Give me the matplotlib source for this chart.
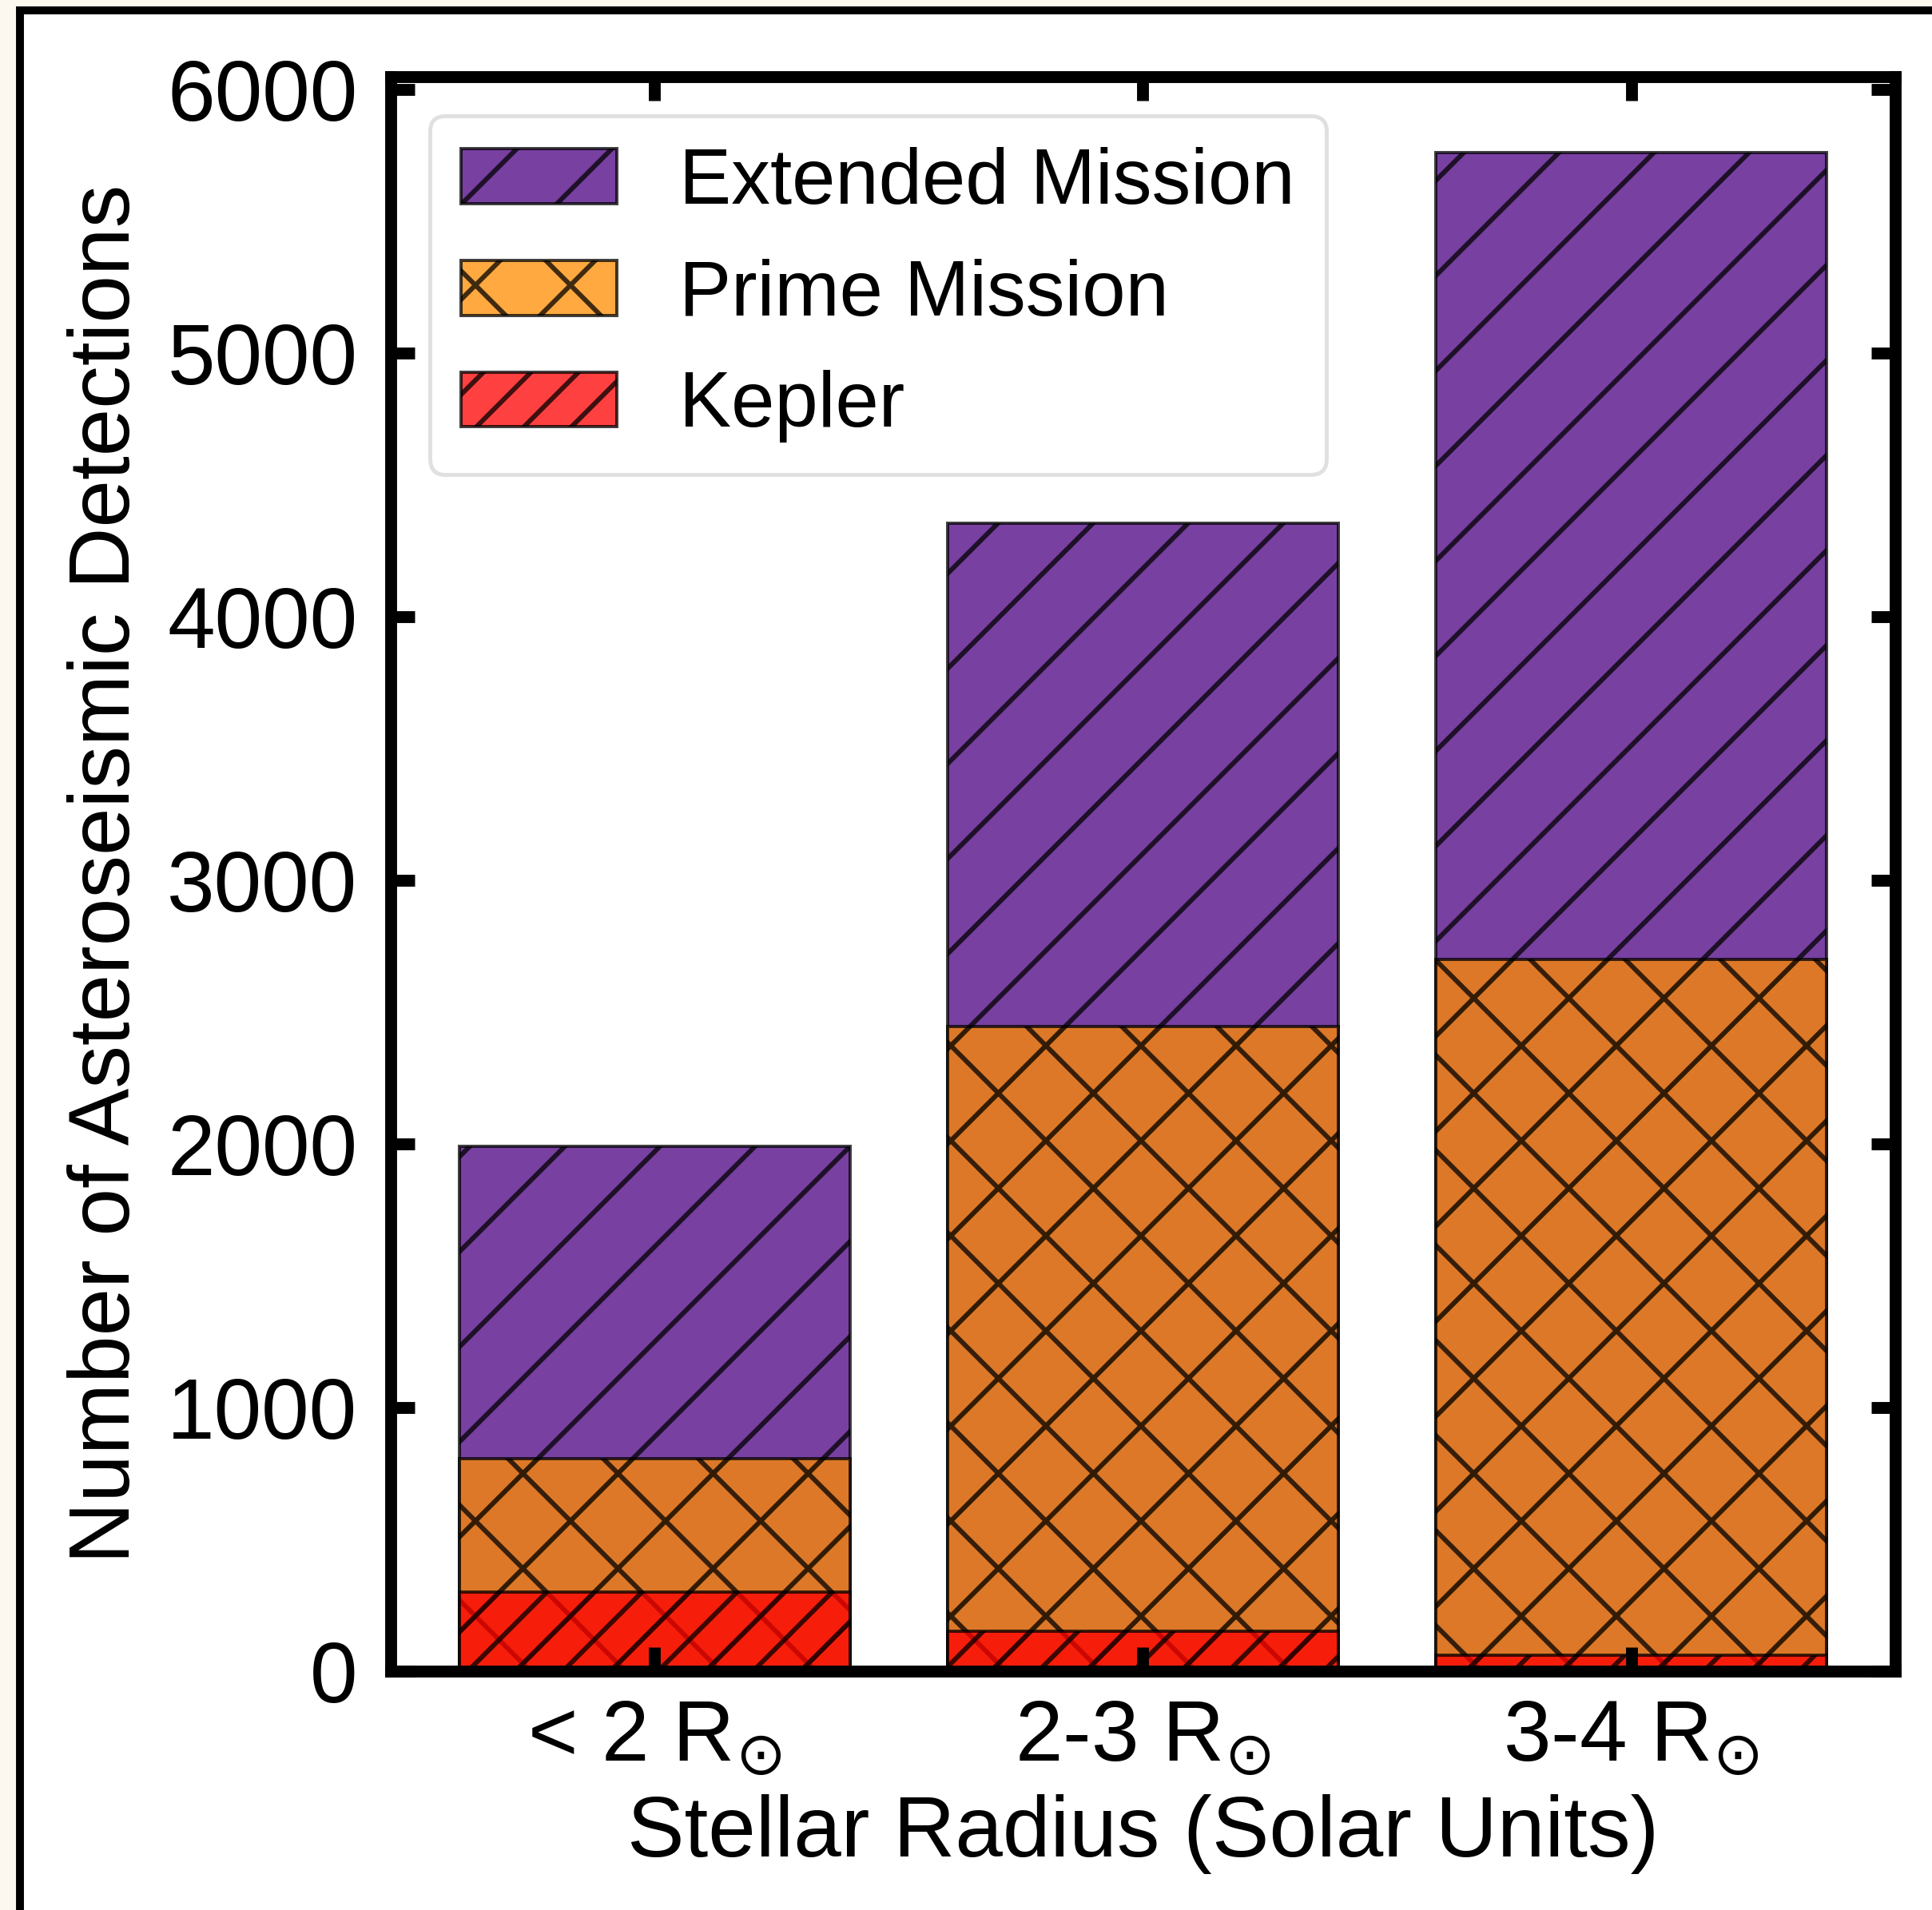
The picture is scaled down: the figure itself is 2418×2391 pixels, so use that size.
import matplotlib.pyplot as plt
from matplotlib.patches import Rectangle

# number of detections per radius bin, each series drawn from zero
categories = ['< 2 R$_{\\odot}$', '2-3 R$_{\\odot}$', '3-4 R$_{\\odot}$']
extended = [1990, 4355, 5760]
prime = [805, 2445, 2700]
kepler = [300, 150, 60]

series = [
    ('Extended Mission', extended, 'indigo', '//'),
    ('Prime Mission', prime, 'darkorange', 'xx'),
    ('Kepler', kepler, 'red', '////'),
]

plt.rcParams['font.family'] = ['Liberation Sans', 'DejaVu Sans']
plt.rcParams['hatch.linewidth'] = 0.6

DPI = 714
fig = plt.figure(figsize=(2418 / DPI, 2391 / DPI), dpi=DPI, facecolor='#fcf7ef')

# white panel with a black border round the plot
fig.patches.append(Rectangle(
    (0.0103, -0.1), 1.2, 1.0946,
    transform=fig.transFigure, facecolor='white', edgecolor='black',
    linewidth=1.0, zorder=-1,
))

ax = fig.add_axes([0.2022, 0.1251, 0.7788, 0.8348])

x = range(len(categories))
for label, values, color, hatch in series:
    ax.bar(
        x, values,
        width=0.8, color=color, alpha=0.75,
        edgecolor='black', linewidth=0.4, hatch=hatch,
        label=label,
    )

#
ax.set_xticks(list(x))
ax.set_xticklabels(categories)
ax.set_xlabel('Stellar Radius (Solar Units)', fontsize=10.8, labelpad=2)
ax.set_ylabel('Number of Asteroseismic Detections', fontsize=10.8, labelpad=2.5)
ax.set_yticks(range(0, 7000, 1000))

for spine in ax.spines.values():
    spine.set_linewidth(1.5)
ax.tick_params(
    direction='in', top=True, right=True,
    length=3, width=1.5, labelsize=10.8,
)
ax.tick_params(axis='y', pad=4.2)

leg = ax.legend(loc='upper left', fontsize=9.85)
leg.get_frame().set_linewidth(0.5)
leg.get_frame().set_edgecolor('0.85')

fig.savefig('out.png', dpi=DPI, facecolor=fig.get_facecolor())
